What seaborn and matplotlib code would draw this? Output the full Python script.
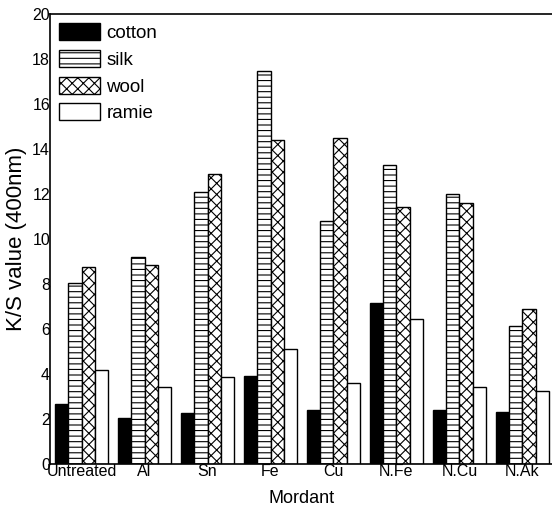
import pandas as pd
import numpy as np
import seaborn as sns
import matplotlib.pyplot as plt
from matplotlib.patches import Patch

mordants = ['Untreated', 'Al', 'Sn', 'Fe', 'Cu', 'N.Fe', 'N.Cu', 'N.Ak']
cotton = [2.65, 2.03, 2.25, 3.9, 2.38, 7.15, 2.38, 2.3]
silk = [8.03, 9.2, 12.1, 17.47, 10.78, 13.3, 12.02, 6.15]
wool = [8.75, 8.85, 12.88, 14.38, 14.48, 11.42, 11.62, 6.88]
ramie = [4.18, 3.43, 3.88, 5.12, 3.62, 6.45, 3.4, 3.25]

fibers = ['cotton', 'silk', 'wool', 'ramie']
hatches = ['', '---', 'xxx', '']
colors = ['black', 'white', 'white', 'white']

df = pd.DataFrame({'Mordant': mordants, 'cotton': cotton, 'silk': silk,
                   'wool': wool, 'ramie': ramie})
df = df.melt(id_vars='Mordant', var_name='fiber', value_name='ks')

sns.set_style('white')
plt.rcParams['font.family'] = ['Liberation Sans', 'DejaVu Sans']
plt.rcParams['hatch.linewidth'] = 0.8
plt.rcParams['text.color'] = 'black'
plt.rcParams['axes.labelcolor'] = 'black'
plt.rcParams['xtick.color'] = 'black'
plt.rcParams['ytick.color'] = 'black'

fig = plt.figure(figsize=(5.52, 5.14), dpi=100)
ax = fig.add_axes([0.0906, 0.0973, 0.913, 0.8755])
sns.barplot(data=df, x='Mordant', y='ks', hue='fiber', hue_order=fibers,
            palette=colors, width=0.83, edgecolor='black', linewidth=1,
            legend=False, ax=ax)

for cont, h in zip(ax.containers, hatches):
    for bar in cont:
        bar.set_hatch(h)

handles = [Patch(facecolor=c, edgecolor='black', hatch=h, label=f)
           for f, c, h in zip(fibers, colors, hatches)]
ax.legend(handles=handles, loc='upper left', frameon=False, fontsize=13.5,
          handlelength=2.15, handleheight=1.0, handletextpad=0.35,
          labelspacing=0.42, borderaxespad=0.3, borderpad=0.2)

ax.set_xlim(-0.5, 7.5)
ax.set_ylim(0, 20)
ax.set_yticks(range(0, 21, 2))
ax.tick_params(axis='both', length=0, pad=0, labelsize=11.5)
ax.set_xlabel('Mordant', fontsize=13, labelpad=8)
ax.set_ylabel('K/S value (400nm)', fontsize=16, labelpad=4)
for s in ['left', 'bottom', 'top']:
    ax.spines[s].set_color('black')
    ax.spines[s].set_linewidth(1.2)
ax.spines['right'].set_visible(False)

fig.savefig('out.png', dpi=100)
